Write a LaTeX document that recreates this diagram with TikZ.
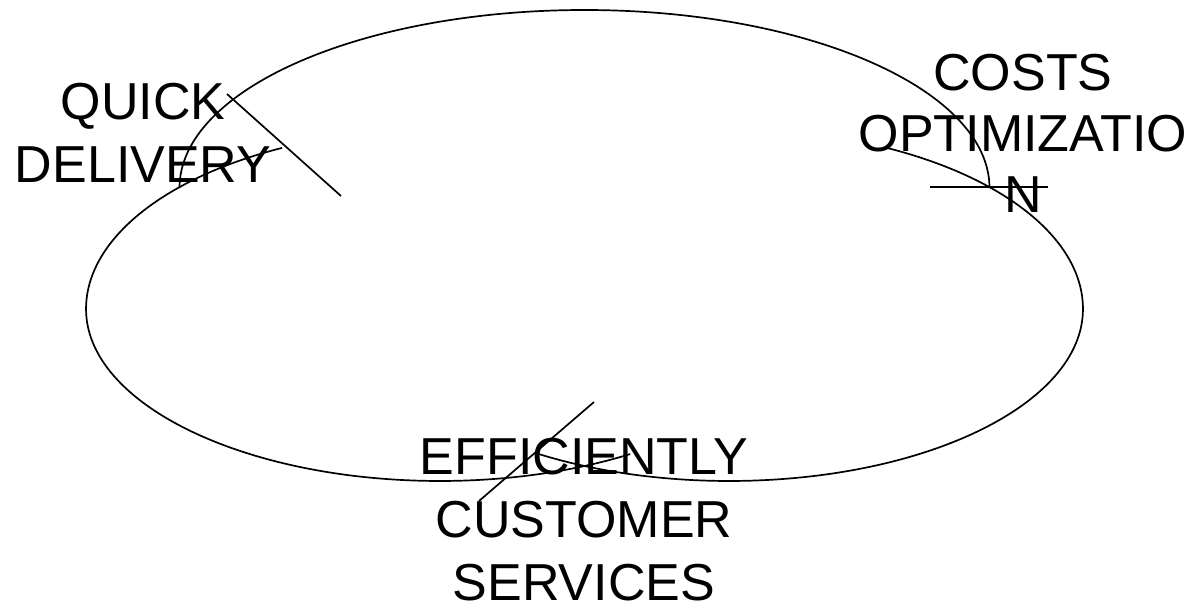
\documentclass[tikz,border=0pt]{standalone}
\usepackage{fontspec}
\setmainfont{Liberation Sans}
\begin{document}
\begin{tikzpicture}[x=1pt,y=-1pt,
  arcline/.style={line width=1.7pt, black},
  tickline/.style={line width=1.7pt, black},
  label/.style={inner sep=0pt, align=center, font=\fontsize{52}{63}\selectfont}
]
\useasboundingbox (0,0) rectangle (1196,607);
% top arc (towards costs optimization)
\coordinate (tstart) at (179.5,188);
\draw[arcline] (tstart) arc[start angle=180, end angle=360, x radius=405, y radius=178] coordinate (tend);
% left arc (towards efficient customer services)
\coordinate (lstart) at (282.1,147.9);
\draw[arcline] (lstart) arc[start angle=243.5, end angle=180, x radius=354, y radius=180]
  arc[start angle=180, end angle=57.5, x radius=354, y radius=172] coordinate (lend);
% right arc (towards quick delivery)
\coordinate (rstart) at (886.9,147.9);
\draw[arcline] (rstart) arc[start angle=296.5, end angle=360, x radius=354, y radius=180]
  arc[start angle=0, end angle=122.5, x radius=354, y radius=172] coordinate (rend);
% tick marks
\coordinate (q1) at (227,94);
\coordinate (q2) at (341,196);
\draw[tickline] (q1) -- (q2);
\coordinate (c1) at (930,187);
\coordinate (c2) at (1048,187);
\draw[tickline] (c1) -- (c2);
\coordinate (e1) at (594,402);
\coordinate (e2) at (479,501);
\draw[tickline] (e1) -- (e2);
% labels
\node[label] (qd) at (143,133) {QUICK\\DELIVERY};
\node[label, font=\fontsize{52}{61}\selectfont] (co) at (1023,133.5) {COSTS\\OPTIMIZATIO\\N};
\node[label] (ecs) at (584,520) {EFFICIENTLY\\CUSTOMER\\SERVICES};
\end{tikzpicture}
\end{document}
